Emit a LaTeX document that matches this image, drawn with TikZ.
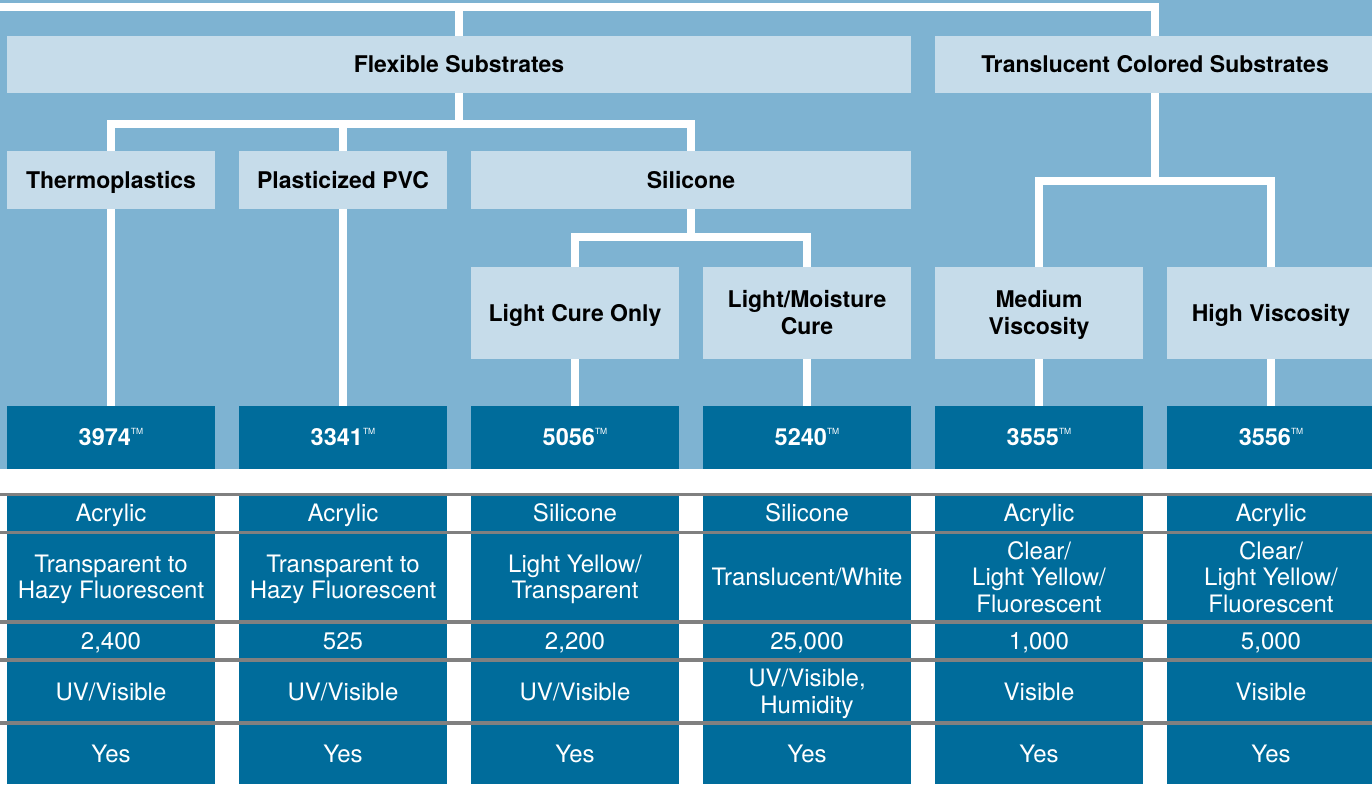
\documentclass[tikz,border=0pt]{standalone}
\usepackage{fontspec}
\setmainfont{TeX Gyre Heros}
\definecolor{bgblue}{RGB}{126,179,210}
\definecolor{pale}{RGB}{198,220,234}
\definecolor{dblue}{RGB}{0,108,155}
\definecolor{rulegray}{RGB}{128,128,128}
\newcommand\capstrut{\rule[-0.25em]{0pt}{1.22em}}
\newcommand\firststrut{\rule{0pt}{0.97em}}
\newcommand\laststrut{\rule[-0.25em]{0pt}{0.25em}}
\newcommand\tm{\raisebox{11.5pt}{\fontsize{8.5}{8.5}\selectfont\mdseries TM}}
\begin{document}
\begin{tikzpicture}[x=1pt,y=-1pt,
  conn/.style={draw=white,line width=8pt,line join=miter},
  centred/.style={execute at end node=\capstrut},
  hbase/.style={rectangle,fill=pale,inner sep=0pt,align=center,text=black,
    font=\fontsize{23}{27}\selectfont\bfseries},
  hbox/.style={hbase,centred},
  pbox/.style={rectangle,fill=dblue,inner sep=0pt,minimum width=208pt,minimum height=63pt,
    text=white,centred,font=\fontsize{23.5}{27}\selectfont\bfseries},
  cbase/.style={rectangle,fill=dblue,inner sep=0pt,minimum width=208pt,align=center,
    text=white,font=\fontsize{24}{26.5}\selectfont},
  cell/.style={cbase,centred},
  r1/.style={cell,minimum height=38pt},
  r2/.style={cell,minimum height=90pt},
  r2m/.style={cbase,minimum height=90pt},
  r3/.style={cell,minimum height=38pt},
  r4/.style={cell,minimum height=63pt},
  r4m/.style={cbase,minimum height=63pt},
  r5/.style={cell,minimum height=61pt},
  tablerule/.style={draw=rulegray,line width=3.6pt}]
\useasboundingbox (0,0) rectangle (1372,784);
\fill[bgblue] (0,0) rectangle (1372,469);
\fill[white] (0,469) rectangle (1372,784);

% coordinates for buses
\coordinate (topleft) at (0,7.2);
\coordinate (bus1) at (0,124);
\coordinate (bus2) at (0,237);
\coordinate (bus3) at (0,180.5);

% level 1
\node[hbox,minimum width=904pt,minimum height=57pt] (flex) at (459,64.5) {Flexible Substrates};
\node[hbox,minimum width=440pt,minimum height=57pt] (trans) at (1155,64.5) {Translucent Colored Substrates};
% level 2
\node[hbox,minimum width=208pt,minimum height=58pt] (thermo) at (111,180) {Thermoplastics};
\node[hbox,minimum width=208pt,minimum height=58pt] (pvc) at (343,180) {Plasticized PVC};
\node[hbox,minimum width=440pt,minimum height=58pt] (sil) at (691,180) {Silicone};
% level 3
\node[hbox,minimum width=208pt,minimum height=92pt] (lco) at (575,313) {Light Cure Only};
\node[hbase,minimum width=208pt,minimum height=92pt] (lmc) at (807,313) {\firststrut Light/Moisture\\Cure\laststrut};
\node[hbase,minimum width=208pt,minimum height=92pt] (med) at (1039,313) {\firststrut Medium\\Viscosity\laststrut};
\node[hbox,minimum width=208pt,minimum height=92pt] (high) at (1271,313) {High Viscosity};
% products
\node[pbox] (p1) at (111,437.5) {3974\tm};
\node[pbox] (p2) at (343,437.5) {3341\tm};
\node[pbox] (p3) at (575,437.5) {5056\tm};
\node[pbox] (p4) at (807,437.5) {5240\tm};
\node[pbox] (p5) at (1039,437.5) {3555\tm};
\node[pbox] (p6) at (1271,437.5) {3556\tm};

% connectors
\draw[conn] (topleft) -| (trans.north);
\draw[conn] (flex.north) -- (flex.north |- topleft);
\draw[conn] (flex.south) -- (flex.south |- bus1);
\draw[conn] (thermo.north) -- (thermo.north |- bus1) -- (sil.north |- bus1) -- (sil.north);
\draw[conn] (pvc.north) -- (pvc.north |- bus1);
\draw[conn] (sil.south) -- (sil.south |- bus2);
\draw[conn] (lco.north) -- (lco.north |- bus2) -- (lmc.north |- bus2) -- (lmc.north);
\draw[conn] (trans.south) -- (trans.south |- bus3);
\draw[conn] (med.north) -- (med.north |- bus3) -- (high.north |- bus3) -- (high.north);
\draw[conn] (thermo.south) -- (p1.north);
\draw[conn] (pvc.south) -- (p2.north);
\draw[conn] (lco.south) -- (p3.north);
\draw[conn] (lmc.south) -- (p4.north);
\draw[conn] (med.south) -- (p5.north);
\draw[conn] (high.south) -- (p6.north);

% table row 1
\node[r1] (a1) at (111,513) {Acrylic};
\node[r1] (a2) at (343,513) {Acrylic};
\node[r1] (a3) at (575,513) {Silicone};
\node[r1] (a4) at (807,513) {Silicone};
\node[r1] (a5) at (1039,513) {Acrylic};
\node[r1] (a6) at (1271,513) {Acrylic};
% row 2
\node[r2m] (b1) at (111,577) {\firststrut Transparent to\\Hazy Fluorescent\laststrut};
\node[r2m] (b2) at (343,577) {\firststrut Transparent to\\Hazy Fluorescent\laststrut};
\node[r2m] (b3) at (575,577) {\firststrut Light Yellow/\\Transparent\laststrut};
\node[r2] (b4) at (807,577) {Translucent/White};
\node[r2m] (b5) at (1039,577) {\firststrut Clear/\\Light Yellow/\\Fluorescent\laststrut};
\node[r2m] (b6) at (1271,577) {\firststrut Clear/\\Light Yellow/\\Fluorescent\laststrut};
% row 3
\node[r3] (c1) at (111,641) {2,400};
\node[r3] (c2) at (343,641) {525};
\node[r3] (c3) at (575,641) {2,200};
\node[r3] (c4) at (807,641) {25,000};
\node[r3] (c5) at (1039,641) {1,000};
\node[r3] (c6) at (1271,641) {5,000};
% row 4
\node[r4] (d1) at (111,691.5) {UV/Visible};
\node[r4] (d2) at (343,691.5) {UV/Visible};
\node[r4] (d3) at (575,691.5) {UV/Visible};
\node[r4m] (d4) at (807,691.5) {\firststrut UV/Visible,\\Humidity\laststrut};
\node[r4] (d5) at (1039,691.5) {Visible};
\node[r4] (d6) at (1271,691.5) {Visible};
% row 5
\node[r5] (e1) at (111,753.5) {Yes};
\node[r5] (e2) at (343,753.5) {Yes};
\node[r5] (e3) at (575,753.5) {Yes};
\node[r5] (e4) at (807,753.5) {Yes};
\node[r5] (e5) at (1039,753.5) {Yes};
\node[r5] (e6) at (1271,753.5) {Yes};

% grey rules
\foreach \yy in {494.3,532.3,622,659.7,722.7}
  \draw[tablerule] (0,\yy) -- (1372,\yy);
\end{tikzpicture}
\end{document}
